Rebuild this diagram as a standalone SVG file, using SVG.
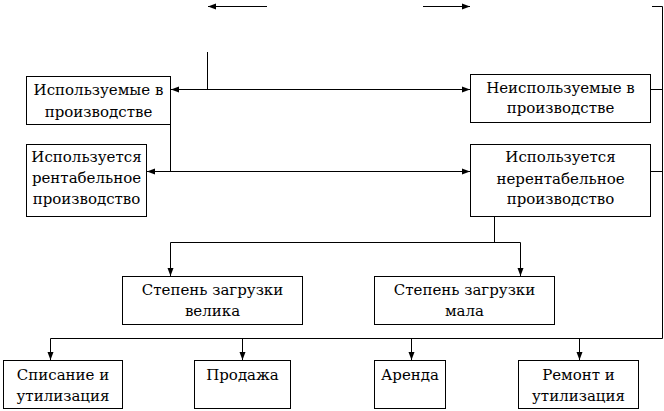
<svg xmlns="http://www.w3.org/2000/svg" width="664" height="411" viewBox="0 0 664 411">
<defs>
<style>
.box{fill:#fff;stroke:#000;stroke-width:1}
.c{fill:none;stroke:#000;stroke-width:1}
.t{font-family:'DejaVu Serif',serif;font-size:15px;fill:#000;text-anchor:middle}
</style>
<marker id="ah" viewBox="0 0 8 8" refX="8" refY="4" markerWidth="8" markerHeight="8" markerUnits="userSpaceOnUse" orient="auto-start-reverse">
<path d="M0,1 L8,4 L0,7 z" fill="#000"/>
</marker>
</defs>
<rect width="664" height="411" fill="#fff"/>
<g id="connectors">
<line class="c" x1="267" y1="6.5" x2="208" y2="6.5" marker-end="url(#ah)"/>
<line class="c" x1="423" y1="6.5" x2="470" y2="6.5" marker-end="url(#ah)"/>
<line class="c" x1="207.5" y1="52" x2="207.5" y2="89.5"/>
<line class="c" x1="171" y1="89.5" x2="470" y2="89.5" marker-start="url(#ah)" marker-end="url(#ah)"/>
<line class="c" x1="170.5" y1="125" x2="170.5" y2="171.5"/>
<line class="c" x1="147" y1="171.5" x2="470" y2="171.5" marker-start="url(#ah)" marker-end="url(#ah)"/>
<path class="c" d="M652,6.5 H662.5 V338.5"/>
<line class="c" x1="650" y1="89.5" x2="662.5" y2="89.5"/>
<line class="c" x1="650" y1="171.5" x2="662.5" y2="171.5"/>
<line class="c" x1="494.5" y1="216" x2="494.5" y2="242.5"/>
<line class="c" x1="170.5" y1="242.5" x2="520.5" y2="242.5"/>
<line class="c" x1="170.5" y1="242.5" x2="170.5" y2="276" marker-end="url(#ah)"/>
<line class="c" x1="520.5" y1="242.5" x2="520.5" y2="276" marker-end="url(#ah)"/>
<line class="c" x1="50.5" y1="338.5" x2="662.5" y2="338.5"/>
<line class="c" x1="50.5" y1="338.5" x2="50.5" y2="360" marker-end="url(#ah)"/>
<line class="c" x1="242.5" y1="338.5" x2="242.5" y2="360" marker-end="url(#ah)"/>
<line class="c" x1="411.5" y1="338.5" x2="411.5" y2="360" marker-end="url(#ah)"/>
<line class="c" x1="579.5" y1="338.5" x2="579.5" y2="360" marker-end="url(#ah)"/>
</g>
<g id="n-used">
<rect class="box" x="26.5" y="76.5" width="144" height="48"/>
<text class="t" x="98.5" y="95">Используемые в</text>
<text class="t" x="98.5" y="117">производстве</text>
</g>
<g id="n-unused">
<rect class="box" x="470.5" y="74.5" width="180" height="48"/>
<text class="t" x="560.5" y="93">Неиспользуемые в</text>
<text class="t" x="560.5" y="113">производстве</text>
</g>
<g id="n-profit">
<rect class="box" x="26.5" y="144.5" width="120" height="72"/>
<text class="t" x="86.5" y="162">Используется</text>
<text class="t" x="86.5" y="183">рентабельное</text>
<text class="t" x="86.5" y="204">производство</text>
</g>
<g id="n-unprofit">
<rect class="box" x="470.5" y="144.5" width="180" height="72"/>
<text class="t" x="560.5" y="162">Используется</text>
<text class="t" x="560.5" y="184">нерентабельное</text>
<text class="t" x="560.5" y="204">производство</text>
</g>
<g id="n-high">
<rect class="box" x="122.5" y="276.5" width="180" height="48"/>
<text class="t" x="212.5" y="295">Степень загрузки</text>
<text class="t" x="212.5" y="316">велика</text>
</g>
<g id="n-low">
<rect class="box" x="374.5" y="276.5" width="180" height="48"/>
<text class="t" x="464.5" y="295">Степень загрузки</text>
<text class="t" x="464.5" y="316">мала</text>
</g>
<g id="n-writeoff">
<rect class="box" x="3.5" y="360.5" width="119" height="48"/>
<text class="t" x="63" y="380">Списание и</text>
<text class="t" x="63" y="401">утилизация</text>
</g>
<g id="n-sale">
<rect class="box" x="194.5" y="360.5" width="96" height="48"/>
<text class="t" x="242.5" y="380">Продажа</text>
</g>
<g id="n-rent">
<rect class="box" x="374.5" y="360.5" width="71" height="48"/>
<text class="t" x="410" y="380">Аренда</text>
</g>
<g id="n-repair">
<rect class="box" x="518.5" y="360.5" width="120" height="48"/>
<text class="t" x="578.5" y="380">Ремонт и</text>
<text class="t" x="578.5" y="401">утилизация</text>
</g>
</svg>
